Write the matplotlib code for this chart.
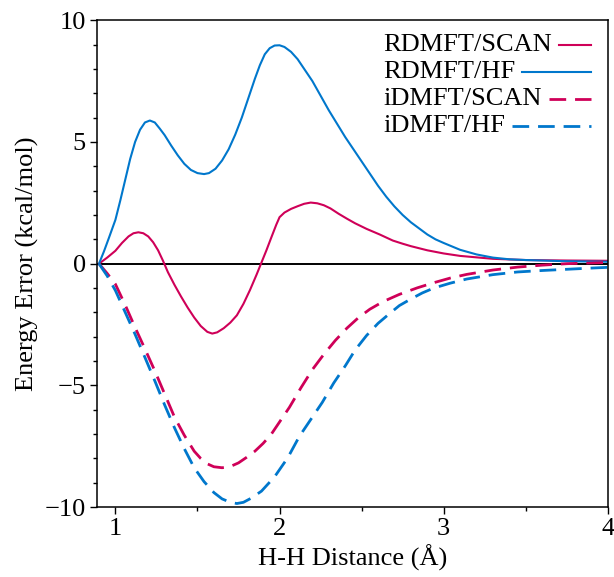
import matplotlib
matplotlib.use("Agg")
from matplotlib import pyplot as plt
from matplotlib.ticker import MultipleLocator
from matplotlib.lines import Line2D

plt.rcParams['font.family'] = ['Liberation Serif', 'DejaVu Serif']

red = "#CF0058"
blue = "#0077CC"

# RDMFT/HF
x_rhf = [0.90, 0.93, 0.96, 1.00, 1.03, 1.06, 1.09, 1.12, 1.15, 1.18, 1.21, 1.24, 1.27,
         1.30, 1.34, 1.38, 1.42, 1.46, 1.50, 1.54, 1.57, 1.61, 1.65, 1.69, 1.73, 1.77,
         1.81, 1.85, 1.88, 1.91, 1.94, 1.97, 2.00, 2.03, 2.07, 2.11, 2.15, 2.20, 2.25,
         2.30, 2.35, 2.40, 2.45, 2.50, 2.55, 2.60, 2.65, 2.70, 2.75, 2.80, 2.85, 2.90,
         2.95, 3.00, 3.10, 3.20, 3.30, 3.40, 3.50, 3.75, 4.00]
y_rhf = [0.0, 0.5, 1.05, 1.8, 2.6, 3.45, 4.3, 5.0, 5.5, 5.8, 5.88, 5.8, 5.55,
         5.28, 4.85, 4.45, 4.1, 3.85, 3.72, 3.68, 3.72, 3.9, 4.24, 4.7, 5.3, 6.0,
         6.8, 7.6, 8.15, 8.6, 8.85, 8.96, 8.97, 8.9, 8.7, 8.4, 8.0, 7.5, 6.9,
         6.3, 5.75, 5.2, 4.7, 4.2, 3.7, 3.2, 2.75, 2.35, 2.0, 1.7, 1.45, 1.2,
         1.0, 0.85, 0.57, 0.38, 0.25, 0.18, 0.15, 0.1, 0.08]

# RDMFT/SCAN
x_rscan = [0.90, 0.95, 1.00, 1.04, 1.08, 1.11, 1.14, 1.17, 1.20, 1.23, 1.26, 1.29, 1.32,
           1.36, 1.40, 1.44, 1.48, 1.52, 1.56, 1.59, 1.62, 1.66, 1.70, 1.74, 1.78, 1.82,
           1.86, 1.89, 1.92, 1.95, 1.98, 2.00, 2.03, 2.07, 2.11, 2.15, 2.19, 2.23, 2.27,
           2.31, 2.36, 2.41, 2.46, 2.53, 2.61, 2.69, 2.75, 2.80, 2.90, 3.00, 3.10, 3.30,
           3.50, 3.75, 4.00]
y_rscan = [0.0, 0.25, 0.53, 0.85, 1.12, 1.25, 1.29, 1.25, 1.12, 0.88, 0.55, 0.12, -0.35,
           -0.87, -1.35, -1.8, -2.21, -2.56, -2.8, -2.87, -2.82, -2.65, -2.42, -2.12, -1.65, -1.08,
           -0.45, 0.05, 0.55, 1.08, 1.6, 1.91, 2.1, 2.25, 2.36, 2.46, 2.51, 2.48, 2.4,
           2.27, 2.05, 1.85, 1.66, 1.43, 1.2, 0.95, 0.82, 0.72, 0.55, 0.42, 0.32, 0.2,
           0.15, 0.13, 0.12]

# iDMFT/SCAN
x_iscan = [0.90, 0.95, 1.00, 1.06, 1.12, 1.18, 1.24, 1.30, 1.36, 1.42, 1.48, 1.52, 1.56,
           1.60, 1.65, 1.70, 1.75, 1.80, 1.85, 1.90, 1.95, 2.00, 2.06, 2.13, 2.20, 2.27,
           2.34, 2.41, 2.48, 2.55, 2.63, 2.73, 2.84, 2.94, 3.04, 3.14, 3.30, 3.45, 3.60,
           3.75, 3.90, 4.00]
y_iscan = [0.0, -0.4, -0.84, -1.7, -2.62, -3.5, -4.4, -5.35, -6.3, -7.05, -7.7, -8.0, -8.22,
           -8.34, -8.38, -8.33, -8.18, -7.95, -7.7, -7.38, -7.0, -6.5, -5.9, -5.1, -4.35, -3.72,
           -3.15, -2.65, -2.22, -1.87, -1.56, -1.26, -0.99, -0.78, -0.59, -0.44, -0.26, -0.14, -0.06,
           0.0, 0.03, 0.05]

# iDMFT/HF
x_ihf = [0.90, 0.95, 1.00, 1.06, 1.12, 1.18, 1.24, 1.30, 1.36, 1.42, 1.48, 1.54, 1.60,
         1.65, 1.70, 1.74, 1.78, 1.83, 1.89, 1.97, 2.05, 2.12, 2.19, 2.26, 2.33, 2.40,
         2.46, 2.53, 2.60, 2.67, 2.73, 2.80, 2.87, 2.94, 3.04, 3.14, 3.30, 3.45, 3.60,
         3.75, 3.90, 4.00]
y_ihf = [0.0, -0.5, -1.1, -2.0, -2.9, -3.85, -4.81, -5.8, -6.74, -7.6, -8.38, -8.95, -9.4,
         -9.66, -9.8, -9.85, -9.8, -9.62, -9.34, -8.75, -7.97, -7.1, -6.4, -5.7, -4.9, -4.2,
         -3.55, -2.95, -2.45, -2.05, -1.72, -1.45, -1.2, -1.0, -0.8, -0.63, -0.45, -0.34, -0.28,
         -0.23, -0.18, -0.15]

labels = ["RDMFT/SCAN", "RDMFT/HF", "iDMFT/SCAN", "iDMFT/HF"]

fig = plt.figure(figsize=(6.14, 5.77), dpi=100)
ax = fig.add_axes([0.158, 0.121, 0.832, 0.844])

ax.axhline(0, color="black", lw=1.4, zorder=1)

dash = (6, 3.2)
lines = []
lines.append(ax.plot(x_rscan, y_rscan, color=red, lw=1.5, solid_joinstyle="round")[0])
lines.append(ax.plot(x_rhf, y_rhf, color=blue, lw=1.5, solid_joinstyle="round")[0])
lines.append(ax.plot(x_iscan, y_iscan, color=red, lw=2.0, dashes=dash)[0])
lines.append(ax.plot(x_ihf, y_ihf, color=blue, lw=2.0, dashes=dash)[0])

ax.set_xlim(0.888, 4.0)
ax.set_ylim(-10, 10)
ax.xaxis.set_major_locator(MultipleLocator(1))
ax.xaxis.set_minor_locator(MultipleLocator(0.5))
ax.yaxis.set_major_locator(MultipleLocator(5))
ax.yaxis.set_minor_locator(MultipleLocator(1))
ax.tick_params(which="major", direction="out", length=5, width=1, labelsize=19, pad=3)
ax.tick_params(which="minor", direction="out", length=3, width=1)
for s in ax.spines.values():
    s.set_linewidth(1.1)

ax.set_xlabel("H-H Distance (Å)", fontsize=19, labelpad=3)
ax.set_ylabel("Energy Error (kcal/mol)", fontsize=19, labelpad=4)

# legend like the original: text left, line filling to the right edge
rows_y = [0.949, 0.893, 0.838, 0.782]
fig.canvas.draw()
renderer = fig.canvas.get_renderer()
inv = ax.transAxes.inverted()
for lab, ln, yy in zip(labels, lines, rows_y):
    t = ax.text(0.56, yy, lab, transform=ax.transAxes, fontsize=19,
                va="center", ha="left")
    bb = t.get_window_extent(renderer)
    x0 = inv.transform((bb.x1 + 7, 0))[0]
    kw = dict(color=ln.get_color(), lw=ln.get_linewidth(), transform=ax.transAxes)
    if ln.get_linestyle() != "-":
        kw["dashes"] = dash
    ax.add_line(Line2D([x0, 0.967], [yy, yy], **kw))

fig.savefig("out.png", dpi=100)
